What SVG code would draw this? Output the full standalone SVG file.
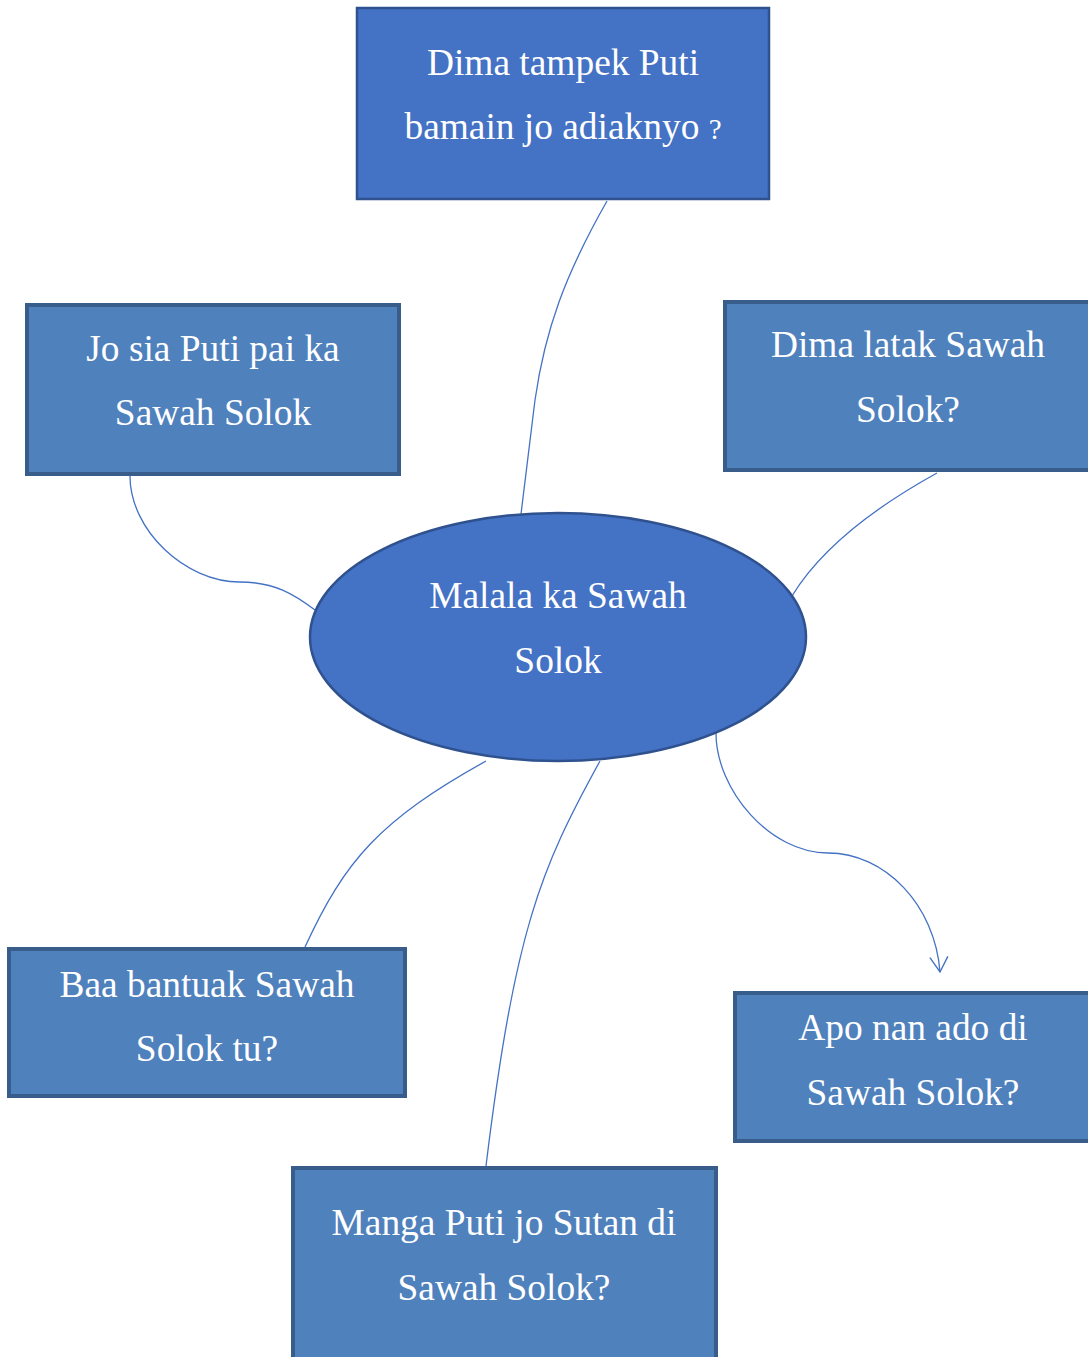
<svg xmlns="http://www.w3.org/2000/svg" width="1088" height="1357" viewBox="0 0 1088 1357">
<style>
.t{font-family:"Liberation Serif","Times New Roman",serif;font-size:37.4px;fill:#fff;text-anchor:middle}
.box{fill:#4F81BD;stroke:#385D8A;stroke-width:4}
.top{fill:#4472C4;stroke:#2F528F;stroke-width:2.5}
.c{fill:none;stroke:#4472C4;stroke-width:1.3}
</style>
<defs>
<marker id="arr" markerWidth="24" markerHeight="24" refX="16" refY="12" orient="auto" markerUnits="userSpaceOnUse">
<path d="M1,3 L16,12 L1,21" fill="none" stroke="#4472C4" stroke-width="1.4"/>
</marker>
</defs>
<rect width="1088" height="1357" fill="#fff"/>
<g id="connectors">
<path class="c" d="M607,201 C565,275 545,330 535,400 L521,514"/>
<path class="c" d="M130,476 C130,530 185,582 240,582 C275,582 295,595 315,610"/>
<path class="c" d="M937,473 C870,510 820,550 792,596"/>
<path class="c" d="M486,761 C380,820 345,860 305,947"/>
<path class="c" d="M600,761 C540,870 515,930 486,1166"/>
<path class="c" d="M716,733 C716,790 770,853 828,853 C885,853 935,905 940,972" marker-end="url(#arr)"/>
</g>
<g id="n-top">
<rect class="top" x="357" y="8" width="412" height="191"/>
<text class="t" x="563" y="75">Dima tampek Puti</text>
<text class="t" x="563" y="139">bamain jo adiaknyo <tspan font-size="29">?</tspan></text>
</g>
<g id="n-josia">
<rect class="box" x="27" y="305" width="372" height="169"/>
<text class="t" x="213" y="361">Jo sia Puti pai ka</text>
<text class="t" x="213" y="425">Sawah Solok</text>
</g>
<g id="n-dimalatak">
<rect class="box" x="725" y="302" width="370" height="168"/>
<text class="t" x="908" y="357">Dima latak Sawah</text>
<text class="t" x="908" y="422">Solok?</text>
</g>
<g id="n-center">
<ellipse cx="558" cy="637" rx="248" ry="124" fill="#4472C4" stroke="#2F528F" stroke-width="2.5"/>
<text class="t" x="558" y="608">Malala ka Sawah</text>
<text class="t" x="558" y="673">Solok</text>
</g>
<g id="n-baa">
<rect class="box" x="9" y="949" width="396" height="147"/>
<text class="t" x="207" y="997">Baa bantuak Sawah</text>
<text class="t" x="207" y="1061">Solok tu?</text>
</g>
<g id="n-apo">
<rect class="box" x="735" y="993" width="360" height="148"/>
<text class="t" x="913" y="1040">Apo nan ado di</text>
<text class="t" x="913" y="1105">Sawah Solok?</text>
</g>
<g id="n-manga">
<rect class="box" x="293" y="1168" width="423" height="200"/>
<text class="t" x="504" y="1235">Manga Puti jo Sutan di</text>
<text class="t" x="504" y="1300">Sawah Solok?</text>
</g>
</svg>
